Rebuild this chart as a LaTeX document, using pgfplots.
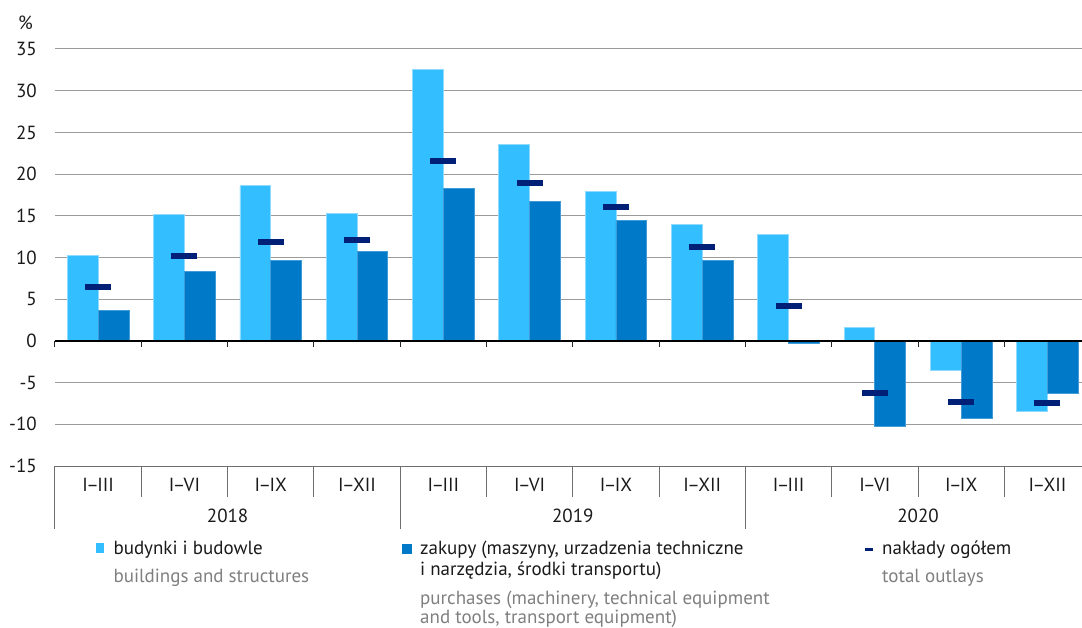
\documentclass[border=0pt]{standalone}
\usepackage{pgfplots}
\pgfplotsset{compat=1.18}
\usepackage{fontspec}
\setmainfont{PT Sans}

\definecolor{lightbar}{HTML}{33BEFF}
\definecolor{darkbar}{HTML}{007AC8}
\definecolor{navy}{HTML}{002078}
\definecolor{gridgray}{HTML}{9B9B9B}
\definecolor{tablegray}{HTML}{6E6E6E}
\definecolor{engray}{HTML}{7F7F7F}
\definecolor{txt}{HTML}{1A1A1A}

% month range with a tight dash
\newcommand{\rng}[1]{I\kern-1.6pt--\kern-1.6pt#1}

\begin{document}
\begin{tikzpicture}[font=\fontsize{19}{22}\selectfont, x=1pt, y=1pt]
\begin{axis}[
  at={(0,0)}, anchor=south west,
  scale only axis, width=1027pt, height=417pt,
  xmin=-0.5, xmax=11.4, ymin=-15, ymax=35,
  axis line style={draw=none},
  major tick length=0pt,
  ytick={-15,-10,...,35},
  yticklabels={-15,-10,-5,0,5,10,15,20,25,30,35},
  yticklabel style={anchor=east, inner sep=0pt, xshift=-18pt, text=txt},
  xtick={0,...,11},
  xticklabels={\rng{III},\rng{VI},\rng{IX},\rng{XII},\rng{III},\rng{VI},\rng{IX},\rng{XII},\rng{III},\rng{VI},\rng{IX},\rng{XII}},
  xticklabel style={anchor=base, inner sep=0pt, yshift=-25.7pt, text=txt},
  ymajorgrids, grid style={gridgray, line width=1pt},
  clip=false,
]
% buildings and structures
\addplot[ybar, bar width=30.8pt, bar shift=-15.4pt, fill=lightbar,
  draw=lightbar!55!white, line width=0.8pt] coordinates {
  (0,10.2) (1,15.2) (2,18.6) (3,15.3)
  (4,32.6) (5,23.6) (6,17.9) (7,14.0)
  (8,12.8) (9,1.6) (10,-3.5) (11,-8.5)};
% purchases
\addplot[ybar, bar width=30.8pt, bar shift=15.4pt, fill=darkbar,
  draw=darkbar!75!white, line width=0.8pt] coordinates {
  (0,3.7) (1,8.3) (2,9.6) (3,10.7)
  (4,18.3) (5,16.7) (6,14.4) (7,9.7)
  (8,-0.3) (9,-10.3) (10,-9.3) (11,-6.3)};
% total outlays
\addplot[only marks, mark=-, mark size=13pt,
  mark options={line width=6pt, draw=navy}] coordinates {
  (0,6.5) (1,10.2) (2,11.9) (3,12.1)
  (4,21.6) (5,18.9) (6,16.0) (7,11.3)
  (8,4.2) (9,-6.2) (10,-7.3) (11,-7.4)};

% zero line with category ticks
\draw[black, line width=1.3pt] (axis cs:-0.5,0) -- (axis cs:11.4,0);
\pgfplotsinvokeforeach{-0.5,0.5,...,10.5}{
  \draw[black!85, line width=1pt] (axis cs:#1,0) -- (axis cs:#1,-0.72);
}
% category table below the plot
\draw[tablegray, line width=1pt] (axis cs:-0.5,-15) -- (axis cs:11.4,-15);
\pgfplotsinvokeforeach{0.5,1.5,2.5,4.5,5.5,6.5,8.5,9.5,10.5}{
  \draw[tablegray, line width=1pt] (axis cs:#1,-15) -- (axis cs:#1,-18.72);
}
\pgfplotsinvokeforeach{-0.5,3.5,7.5}{
  \draw[tablegray, line width=1pt] (axis cs:#1,-15) -- (axis cs:#1,-22.55);
}
\node[anchor=base, inner sep=0pt, text=txt, yshift=-56.3pt] at (axis cs:1.5,-15) {2018};
\node[anchor=base, inner sep=0pt, text=txt, yshift=-56.3pt] at (axis cs:5.5,-15) {2019};
\node[anchor=base, inner sep=0pt, text=txt, yshift=-56.3pt] at (axis cs:9.5,-15) {2020};
\end{axis}

% unit above the value axis
\node[anchor=base, inner sep=0pt, text=txt] at (-29.5,436.7) {\%};

% legend
\fill[lightbar] (41,-87) rectangle (49,-77);
\node[anchor=base west, inner sep=0pt, text=txt] at (58.3,-88.3) {budynki i budowle};
\node[anchor=base west, inner sep=0pt, text=engray] at (58.3,-116.7) {buildings and structures};

\fill[darkbar] (347,-88) rectangle (357,-78);
\node[anchor=base west, inner sep=0pt, text=txt] at (365,-88.3) {zakupy (maszyny, urzadzenia techniczne};
\node[anchor=base west, inner sep=0pt, text=txt] at (365,-109.7) {i narzędzia, środki transportu)};
\node[anchor=base west, inner sep=0pt, text=engray] at (365,-138) {purchases (machinery, technical equipment};
\node[anchor=base west, inner sep=0pt, text=engray] at (365,-157.3) {and tools, transport equipment)};

\fill[navy] (810,-84.5) rectangle (818,-81.5);
\node[anchor=base west, inner sep=0pt, text=txt] at (827,-88.3) {nakłady ogółem};
\node[anchor=base west, inner sep=0pt, text=engray] at (827,-116.3) {total outlays};

\pgfresetboundingbox
\path[use as bounding box] (-55,-161) rectangle (1027,466);
\end{tikzpicture}
\end{document}
